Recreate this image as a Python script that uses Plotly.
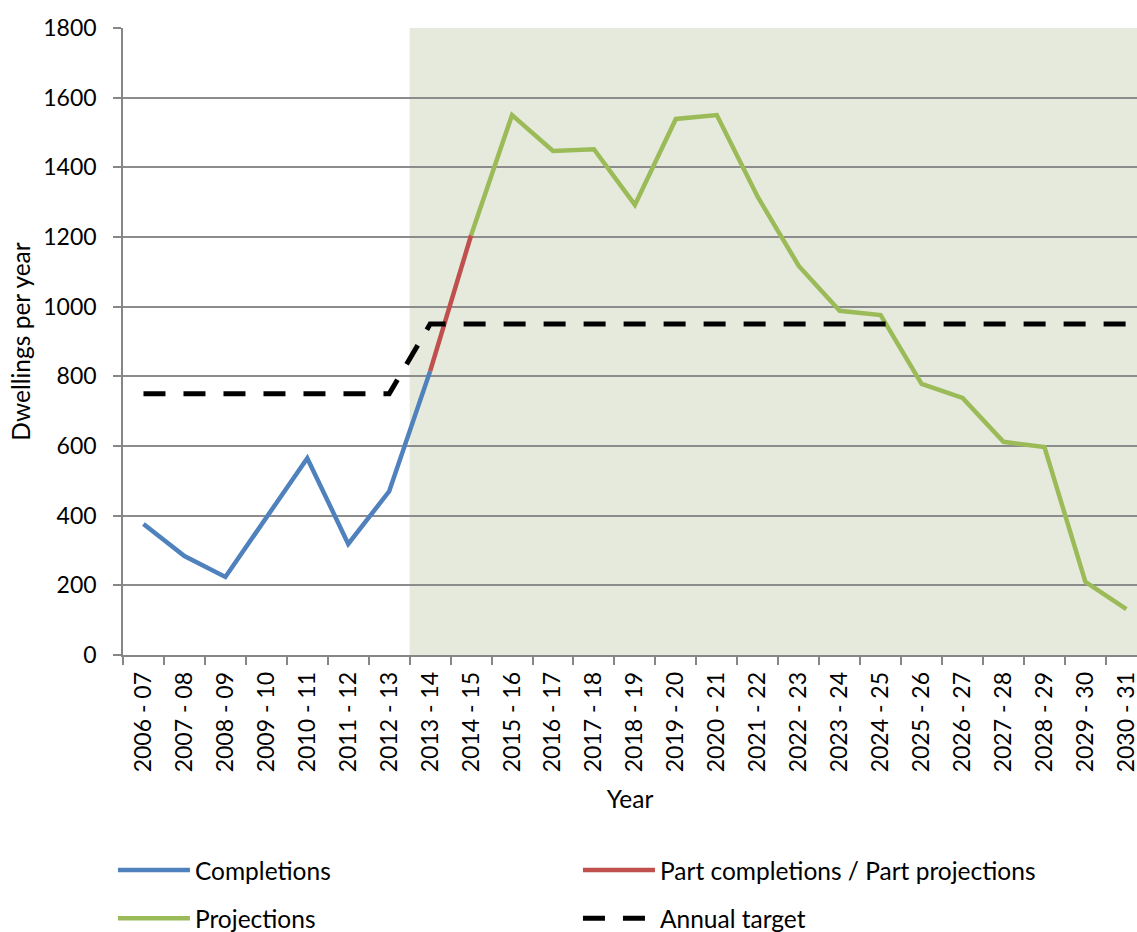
import plotly.graph_objects as go

years = ["2006 - 07", "2007 - 08", "2008 - 09", "2009 - 10", "2010 - 11", "2011 - 12",
         "2012 - 13", "2013 - 14", "2014 - 15", "2015 - 16", "2016 - 17", "2017 - 18",
         "2018 - 19", "2019 - 20", "2020 - 21", "2021 - 22", "2022 - 23", "2023 - 24",
         "2024 - 25", "2025 - 26", "2026 - 27", "2027 - 28", "2028 - 29", "2029 - 30",
         "2030 - 31"]

completions = [376, 284, 224, 395, 565, 319, 470, 815] + [None] * 17
part = [None] * 7 + [815, 1205] + [None] * 16
projections = [None] * 8 + [1205, 1550, 1447, 1452, 1292, 1539, 1550, 1315, 1117,
                            988, 976, 778, 738, 612, 597, 210, 132]
target = [750] * 7 + [950] * 18

y_ticks = [0, 200, 400, 600, 800, 1000, 1200, 1400, 1600, 1800]

FONT = "Lato"
TICK_FS = 23
TEXT_FS = 24.5

fig = go.Figure()
fig.add_trace(go.Scatter(x=years, y=completions, mode="lines", name="Completions",
                         line=dict(color="#4F81BD", width=4.5), legend="legend"))
fig.add_trace(go.Scatter(x=years, y=part, mode="lines", name="Part completions / Part projections",
                         line=dict(color="#C0504D", width=4.5), legend="legend"))
fig.add_trace(go.Scatter(x=years, y=projections, mode="lines", name="Projections",
                         line=dict(color="#9BBB59", width=4.5), legend="legend2"))
fig.add_trace(go.Scatter(x=years, y=target, mode="lines", name="Annual target",
                         line=dict(color="#000000", width=5, dash="22px,18px"), legend="legend2"))

fig.add_shape(type="rect", xref="x", yref="paper", x0=6.5, x1=24.5, y0=0, y1=1,
              fillcolor="#E6EADC", line_width=0, layer="below")

legend_common = dict(orientation="h", xanchor="left", yanchor="middle",
                     font=dict(family=FONT, size=TEXT_FS, color="black"),
                     entrywidth=378, entrywidthmode="pixels", itemwidth=72,
                     bgcolor="rgba(0,0,0,0)", traceorder="normal")

fig.update_layout(
    width=1137, height=932,
    margin=dict(l=123, r=0, t=28, b=277, autoexpand=False),
    plot_bgcolor="white", paper_bgcolor="white",
    font=dict(family=FONT, size=TICK_FS, color="black"),
    showlegend=True,
    legend=dict(x=-0.0099, y=-0.343, **legend_common),
    legend2=dict(x=-0.0099, y=-0.42, **legend_common),
    xaxis=dict(
        type="category", range=[-0.5, 24.26], tickson="boundaries",
        ticks="outside", ticklen=8, tickcolor="#868686", tickwidth=1.5,
        showline=True, linecolor="#868686", linewidth=1.5,
        showgrid=False, tickangle=-90, ticklabelstandoff=6,
        tickfont=dict(family=FONT, size=TICK_FS, color="black"),
        title=dict(text="Year", font=dict(family=FONT, size=TEXT_FS, color="black"), standoff=20),
    ),
    yaxis=dict(
        range=[0, 1800], tickvals=y_ticks,
        ticks="outside", ticklen=8, tickcolor="#868686", tickwidth=1.5,
        showline=True, linecolor="#868686", linewidth=1.5,
        showgrid=True, gridcolor="#8C8C8C", gridwidth=1.5,
        zeroline=False, ticklabelstandoff=12,
        tickfont=dict(family=FONT, size=TICK_FS, color="black"),
        title=dict(text="Dwellings per year", font=dict(family=FONT, size=TEXT_FS, color="black"), standoff=6),
    ),
)

fig.write_html("out.html", config={"displayModeBar": False},
               post_script="document.body.style.margin='0';document.body.style.padding='0';document.body.style.overflow='hidden';")
